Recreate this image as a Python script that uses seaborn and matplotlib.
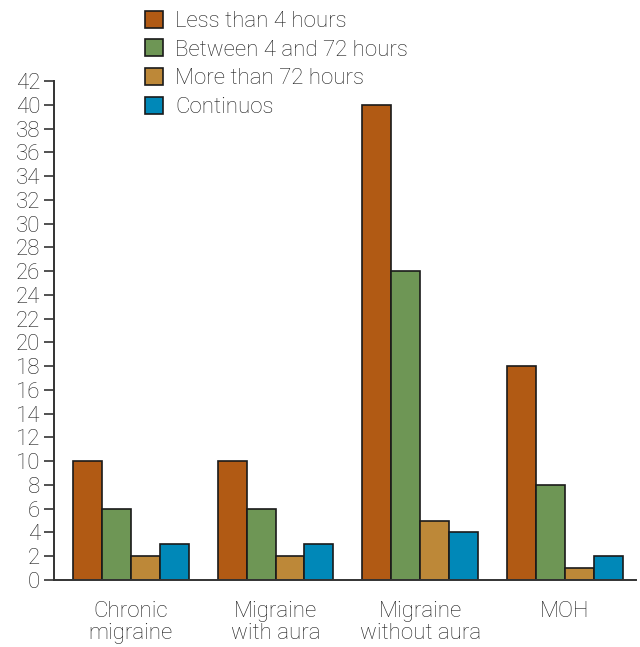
import matplotlib
matplotlib.use("Agg")
import matplotlib.pyplot as plt
import seaborn as sns
import pandas as pd

categories = ["Chronic\nmigraine", "Migraine\nwith aura", "Migraine\nwithout aura", "MOH"]
series_names = ["Less than 4 hours", "Between 4 and 72 hours", "More than 72 hours", "Continuos"]
less_than_4 = [10, 10, 40, 18]
between_4_72 = [6, 6, 26, 8]
more_than_72 = [2, 2, 5, 1]
continuos = [3, 3, 4, 2]
colors = ["#B15A14", "#6E9655", "#BD8838", "#0088B8"]
yticks = list(range(0, 43, 2))

rows = []
for name, vals in zip(series_names, [less_than_4, between_4_72, more_than_72, continuos]):
    for c, v in zip(categories, vals):
        rows.append({"cat": c, "series": name, "value": v})
df = pd.DataFrame(rows)

sns.set_style("white")
plt.rcParams["font.family"] = ["Roboto", "DejaVu Sans"]
plt.rcParams["font.weight"] = "light"

FS = 16
TC = "#1f1f1f"

fig = plt.figure(figsize=(6.4, 6.47), dpi=100)
ax = fig.add_axes([54/640, 1-580/647, (636-54)/640, (580-81)/647])

sns.barplot(data=df, x="cat", y="value", hue="series", order=categories,
            hue_order=series_names, palette=colors, width=0.8, saturation=1,
            edgecolor="#1a1a1a", linewidth=1.2, ax=ax, legend=True)

ax.set_ylim(0, 42)
ax.set_xlim(-0.53, 3.49)
ax.set_yticks(yticks)
ax.set_yticklabels([str(t) for t in yticks], fontsize=FS, color=TC)
ax.set_xticks(range(len(categories)))
ax.set_xticklabels(categories, fontsize=FS, color=TC, linespacing=1.1)
ax.tick_params(axis="y", length=7, width=1.2, color="#333333", pad=3, left=True)
ax.tick_params(axis="x", length=0, pad=15)
ax.set_xlabel("")
ax.set_ylabel("")
for s in ["top", "right"]:
    ax.spines[s].set_visible(False)
for s in ["left", "bottom"]:
    ax.spines[s].set_color("#333333")
    ax.spines[s].set_linewidth(1.4)

handles, labels = ax.get_legend_handles_labels()
ax.get_legend().remove()
fig.legend(handles, labels, loc="upper left", bbox_to_anchor=(136/640, 1-2/647),
           frameon=False, fontsize=FS, handlelength=0.8, handleheight=0.8,
           handletextpad=0.55, labelspacing=0.33, borderaxespad=0, labelcolor=TC)

fig.savefig("out.png", dpi=100)
